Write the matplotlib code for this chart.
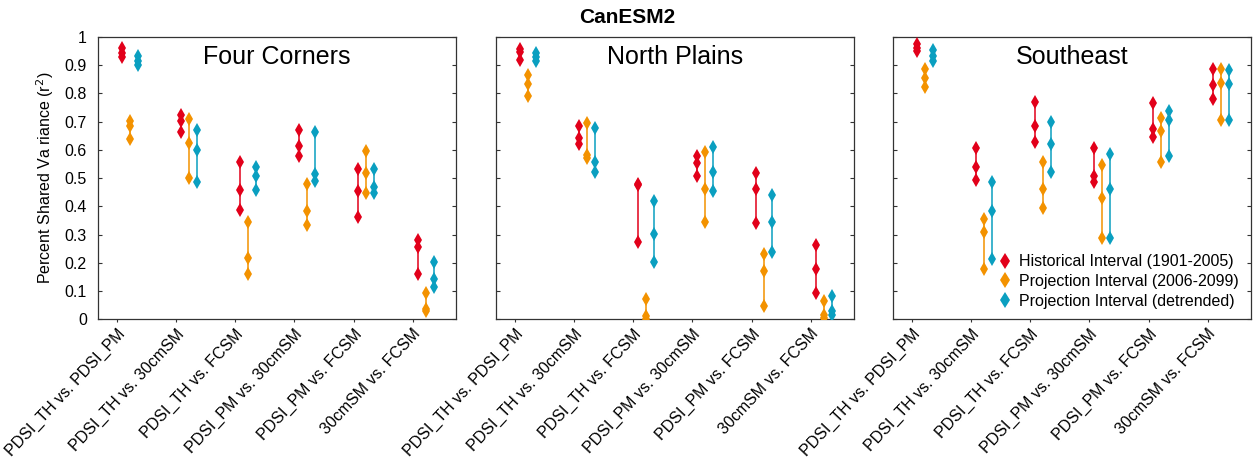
import matplotlib
matplotlib.use("Agg")
import matplotlib.pyplot as plt
from matplotlib.lines import Line2D

plt.rcParams['font.family'] = ['Liberation Sans', 'DejaVu Sans']

categories = ["PDSI_TH vs. PDSI_PM", "PDSI_TH vs. 30cmSM", "PDSI_TH vs. FCSM",
              "PDSI_PM vs. 30cmSM", "PDSI_PM vs. FCSM", "30cmSM vs. FCSM"]
regions = ["Four Corners", "North Plains", "Southeast"]
series_labels = ["Historical Interval (1901-2005)",
                 "Projection Interval (2006-2099)",
                 "Projection Interval (detrended)"]

# Four Corners
fc_hist = [[0.96, 0.945, 0.93], [0.725, 0.703, 0.662], [0.558, 0.458, 0.387],
           [0.670, 0.614, 0.578], [0.531, 0.455, 0.363], [0.281, 0.255, 0.162]]
fc_proj = [[0.703, 0.684, 0.637], [0.708, 0.623, 0.502], [0.346, 0.218, 0.160],
           [0.481, 0.383, 0.334], [0.596, 0.519, 0.446], [0.094, 0.037, 0.030]]
fc_detr = [[0.932, 0.915, 0.900], [0.672, 0.601, 0.486], [0.539, 0.508, 0.458],
           [0.664, 0.514, 0.489], [0.534, 0.469, 0.446], [0.204, 0.142, 0.115]]

# North Plains
np_hist = [[0.959, 0.947, 0.920], [0.684, 0.643, 0.620], [0.478, 0.476, 0.275],
           [0.579, 0.552, 0.507], [0.517, 0.462, 0.340], [0.263, 0.179, 0.094]]
np_proj = [[0.867, 0.835, 0.790], [0.696, 0.581, 0.572], [0.073, 0.012, 0.002],
           [0.592, 0.462, 0.346], [0.233, 0.171, 0.047], [0.065, 0.015, 0.006]]
np_detr = [[0.943, 0.929, 0.915], [0.678, 0.558, 0.522], [0.419, 0.302, 0.204],
           [0.611, 0.522, 0.455], [0.442, 0.346, 0.237], [0.081, 0.029, 0.015]]

# Southeast
se_hist = [[0.974, 0.962, 0.950], [0.607, 0.540, 0.495], [0.770, 0.684, 0.629],
           [0.608, 0.507, 0.487], [0.767, 0.673, 0.644], [0.888, 0.829, 0.782]]
se_proj = [[0.888, 0.855, 0.823], [0.355, 0.308, 0.177], [0.558, 0.462, 0.395],
           [0.545, 0.428, 0.287], [0.712, 0.666, 0.558], [0.888, 0.837, 0.705]]
se_detr = [[0.955, 0.932, 0.914], [0.486, 0.384, 0.213], [0.699, 0.620, 0.522],
           [0.587, 0.462, 0.289], [0.737, 0.705, 0.578], [0.884, 0.835, 0.705]]

data = [[fc_hist, fc_proj, fc_detr],
        [np_hist, np_proj, np_detr],
        [se_hist, se_proj, se_detr]]

colors = ["#e2001a", "#f39200", "#0a9fc0"]
offsets = [0.08, 0.215, 0.35]

fig = plt.figure(figsize=(12.55, 4.67), dpi=100)
lefts = [98 / 1255, 496 / 1255, 893 / 1255]
W = 358 / 1255
B = 1 - 319.3 / 467
H = (319.3 - 37) / 467

axes = []
for r, region in enumerate(regions):
    ax = fig.add_axes([lefts[r], B, W, H])
    axes.append(ax)
    for s in range(3):
        for g, vals in enumerate(data[r][s]):
            x = g + 1 + offsets[s]
            ax.plot([x, x], [min(vals), max(vals)], color=colors[s], lw=1.1,
                    solid_capstyle='butt', zorder=2)
            ax.plot([x] * len(vals), vals, linestyle='none', marker='d',
                    ms=7.5, mew=0, color=colors[s], zorder=3)
    ax.set_xlim(0.68, 6.73)
    ax.set_ylim(0, 1)
    ax.set_xticks(range(1, 7))
    ax.set_xticklabels(categories, rotation=47, ha='right', va='top',
                       rotation_mode='anchor', fontsize=11.5)
    ax.set_yticks([i / 10 for i in range(11)])
    ax.tick_params(axis='y', direction='in', length=3, right=True,
                   labelsize=11.5, width=0.8, color='#333333', pad=8)
    ax.tick_params(axis='x', direction='out', length=2, width=0.8,
                   color='#333333', pad=3)
    if r == 0:
        ax.set_yticklabels(["0", "0.1", "0.2", "0.3", "0.4", "0.5", "0.6",
                            "0.7", "0.8", "0.9", "1"])
        ax.set_ylabel("Percent Shared Va riance (r$^2$)", fontsize=11.5,
                      labelpad=6)
    else:
        ax.set_yticklabels([])
    for sp in ax.spines.values():
        sp.set_color('#333333')
        sp.set_linewidth(0.9)
    ax.text(0.5, 0.93, region, transform=ax.transAxes, ha='center',
            va='center', fontsize=18)

handles = [Line2D([], [], linestyle='none', marker='d', ms=8, mew=0,
                  color=c) for c in colors]
axes[2].legend(handles, series_labels, loc='lower right', frameon=False,
               fontsize=11.5, handlelength=0.8, handletextpad=0.5,
               labelspacing=0.3, borderaxespad=0.0,
               bbox_to_anchor=(0.985, 0.015))

fig.text(0.5, 0.962, "CanESM2", ha='center', va='center', fontsize=15,
         fontweight='bold')

fig.savefig("out.png", dpi=100)
